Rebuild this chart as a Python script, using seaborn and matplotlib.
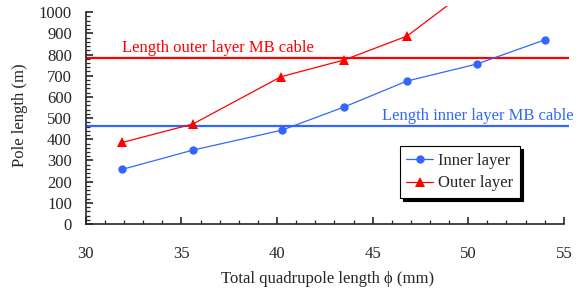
import matplotlib
matplotlib.use("Agg")
import matplotlib.pyplot as plt
import seaborn as sns
import pandas as pd
from matplotlib.ticker import MultipleLocator

sns.set_style("ticks")
plt.rcParams['font.family'] = ['Liberation Serif', 'DejaVu Serif']

inner_x = [31.9, 35.6, 40.25, 43.5, 46.8, 50.45, 54.0]
inner_y = [258, 349, 443, 552, 675, 755, 869]
outer_x = [31.9, 35.6, 40.2, 43.5, 46.8, 50.4]
outer_y = [385, 472, 695, 774, 887, 1132]
outer_cable = 783
inner_cable = 462

blue = '#3366FF'
red = '#FF0000'

fig = plt.figure(figsize=(5.84, 2.88), dpi=100)
ax = fig.add_axes([0.147, 0.222, 0.827, 0.758])

ax.axhline(outer_cable, color=red, lw=1.6, zorder=1)
ax.axhline(inner_cable, color=blue, lw=1.6, zorder=1)

sns.lineplot(x=inner_x, y=inner_y, ax=ax, color=blue, marker='o', markersize=6,
             markeredgewidth=0, lw=0.9, label='Inner layer')
sns.lineplot(x=outer_x, y=outer_y, ax=ax, color=red, marker='^', markersize=7,
             markeredgewidth=0, lw=0.9, label='Outer layer')

ax.set_xlim(30, 55.26)
ax.set_ylim(0, 1030)
ax.spines['bottom'].set_bounds(30, 55)
ax.spines['left'].set_bounds(0, 1000)
ax.spines['top'].set_visible(False)
ax.spines['right'].set_visible(False)
for s in ('left', 'bottom'):
    ax.spines[s].set_linewidth(1.2)

ax.xaxis.set_major_locator(MultipleLocator(5))
ax.xaxis.set_minor_locator(MultipleLocator(1))
ax.yaxis.set_major_locator(MultipleLocator(100))
ax.yaxis.set_minor_locator(MultipleLocator(20))
ax.set_yticks(range(0, 1001, 100))
ax.set_yticks(range(0, 1001, 20), minor=True)
ax.tick_params(which='major', direction='in', length=5, width=1.2, labelsize=12)
ax.tick_params(axis='x', which='major', pad=16)
ax.tick_params(axis='y', which='major', pad=10)
ax.tick_params(which='minor', direction='in', length=3, width=0.9)

ax.text(31.9, 795, 'Length outer layer MB cable', color=red, fontsize=12, va='bottom', ha='left')
ax.text(55.5, 474, 'Length inner layer MB cable', color=blue, fontsize=12, va='bottom', ha='right',
        clip_on=False)

ax.set_xlabel('Total quadrupole length \u03d5 (mm)', fontsize=12, labelpad=6)
ax.set_ylabel('Pole length (m)', fontsize=12, labelpad=8)

leg = ax.legend(loc='upper left', bbox_to_anchor=(0.65, 0.357), fontsize=12, frameon=True,
                fancybox=False, shadow={'color': 'black', 'alpha': 1}, edgecolor='black',
                framealpha=1, handlelength=1.6, handletextpad=0.3, borderpad=0.4,
                labelspacing=0.4, borderaxespad=0)
leg.get_frame().set_linewidth(0.8)

fig.savefig('out.png', dpi=100)
